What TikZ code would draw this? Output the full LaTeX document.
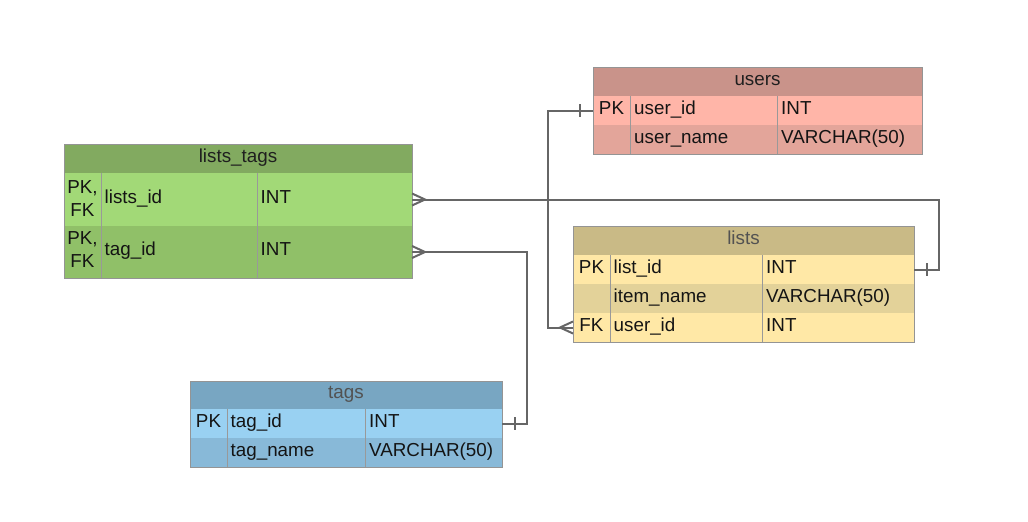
\documentclass[tikz,border=0pt]{standalone}
\usepackage{fontspec}
\setmainfont{Liberation Sans}
\definecolor{usersH}{HTML}{C9938A}
\definecolor{usersA}{HTML}{FFB5A8}
\definecolor{usersB}{HTML}{E3A59A}
\definecolor{listsH}{HTML}{C9BA86}
\definecolor{listsA}{HTML}{FFE8A6}
\definecolor{listsB}{HTML}{E3D299}
\definecolor{ltH}{HTML}{82AA60}
\definecolor{ltA}{HTML}{A2D977}
\definecolor{ltB}{HTML}{90C068}
\definecolor{tagsH}{HTML}{78A6C2}
\definecolor{tagsA}{HTML}{99D1F2}
\definecolor{tagsB}{HTML}{88B9D8}
\definecolor{connc}{HTML}{666666}
\begin{document}
\begin{tikzpicture}[x=1pt,y=-1pt,
  rowbox/.style={anchor=north west, inner sep=0pt, outer sep=0pt, minimum height=#1},
  frame/.style={draw=black!42, line width=0.9pt},
  div/.style={draw=black!40, line width=0.8pt},
  txt/.style={anchor=base west, inner sep=0pt, text=black!92, font=\fontsize{18.8}{22}\selectfont},
  ctxt/.style={txt, anchor=base},
  htxt/.style={ctxt},
  conn/.style={draw=connc, line width=2pt, line join=miter}]
\fill[white] (0,0) rectangle (1028,522);
\useasboundingbox (0,0) rectangle (1028,522);

% ---------- users ----------
\node[rowbox=29, minimum width=329, fill=usersH] (uh) at (593,67) {};
\node[rowbox=29, minimum width=329, fill=usersA] (u1) at (593,96) {};
\node[rowbox=29, minimum width=329, fill=usersB] (u2) at (593,125) {};
\draw[div] (630,96) -- (630,154);
\draw[div] (777,96) -- (777,154);
\draw[frame] (uh.north west) rectangle (u2.south east);
\node[htxt, text=black!88] (uht) at (757.5,85.5) {users};
\node[ctxt] (u1k) at (611.5,114) {PK};
\node[txt] (u1n) at (634,114) {user\_id};
\node[txt] (u1t) at (781,114) {INT};
\node[txt] (u2n) at (634,143) {user\_name};
\node[txt] (u2t) at (781,143) {VARCHAR(50)};

% ---------- lists ----------
\node[rowbox=29, minimum width=341, fill=listsH] (lh) at (573,226) {};
\node[rowbox=29, minimum width=341, fill=listsA] (l1) at (573,255) {};
\node[rowbox=29, minimum width=341, fill=listsB] (l2) at (573,284) {};
\node[rowbox=29, minimum width=341, fill=listsA] (l3) at (573,313) {};
\draw[div] (610,255) -- (610,342);
\draw[div] (762,255) -- (762,342);
\draw[frame] (lh.north west) rectangle (l3.south east);
\node[htxt, text=black!68] (lht) at (743.5,244.5) {lists};
\node[ctxt] (l1k) at (591.5,273) {PK};
\node[txt] (l1n) at (613.5,273) {list\_id};
\node[txt] (l1t) at (766,273) {INT};
\node[txt] (l2n) at (613.5,302) {item\_name};
\node[txt] (l2t) at (766,302) {VARCHAR(50)};
\node[ctxt] (l3k) at (591.5,331) {FK};
\node[txt] (l3n) at (613.5,331) {user\_id};
\node[txt] (l3t) at (766,331) {INT};

% ---------- lists_tags ----------
\node[rowbox=29, minimum width=348, fill=ltH] (lth) at (64,144) {};
\node[rowbox=53, minimum width=348, fill=ltA] (lt1) at (64,173) {};
\node[rowbox=52, minimum width=348, fill=ltB] (lt2) at (64,226) {};
\draw[div] (101,173) -- (101,278);
\draw[div] (257,173) -- (257,278);
\draw[frame] (lth.north west) rectangle (lt2.south east);
\node[htxt, text=black!88] (ltht) at (238,162.5) {lists\_tags};
\node[ctxt] (lt1k) at (82.5,193.3) {PK,};
\node[ctxt] (lt1f) at (82.5,216) {FK};
\node[txt] (lt1n) at (104.5,203) {lists\_id};
\node[txt] (lt1t) at (260.5,203) {INT};
\node[ctxt] (lt2k) at (82.5,244.5) {PK,};
\node[ctxt] (lt2f) at (82.5,267.3) {FK};
\node[txt] (lt2n) at (104.5,255.5) {tag\_id};
\node[txt] (lt2t) at (260.5,255.5) {INT};

% ---------- tags ----------
\node[rowbox=28, minimum width=312, fill=tagsH] (th) at (190,381) {};
\node[rowbox=29, minimum width=312, fill=tagsA] (t1) at (190,409) {};
\node[rowbox=29, minimum width=312, fill=tagsB] (t2) at (190,438) {};
\draw[div] (227,409) -- (227,467);
\draw[div] (365,409) -- (365,467);
\draw[frame] (th.north west) rectangle (t2.south east);
\node[htxt, text=black!68] (tht) at (346,398.5) {tags};
\node[ctxt] (t1k) at (208.5,427) {PK};
\node[txt] (t1n) at (230.5,427) {tag\_id};
\node[txt] (t1t) at (369,427) {INT};
\node[txt] (t2n) at (230.5,456) {tag\_name};
\node[txt] (t2t) at (369,456) {VARCHAR(50)};

% ---------- connectors ----------
\coordinate (jA) at (548,0);
\coordinate (jB) at (939,0);
\coordinate (jC) at (527,0);

% users.user_id  --< lists.user_id
\draw[conn] (u1.west) -- (u1.west -| jA) -- (l3.west -| jA) -- (l3.west);
\draw[conn] ([xshift=-13pt,yshift=6.5pt]u1.west) -- ([xshift=-13pt,yshift=-6.5pt]u1.west);
\draw[conn] ([yshift=6pt]l3.west) -- ([xshift=-13pt]l3.west) -- ([yshift=-6pt]l3.west);

% lists_tags.lists_id >-- lists.list_id
\draw[conn] (lt1.east) -- (lt1.east -| jB) -- (l1.east -| jB) -- (l1.east);
\draw[conn] ([yshift=6pt]lt1.east) -- ([xshift=13pt]lt1.east) -- ([yshift=-6pt]lt1.east);
\draw[conn] ([xshift=13pt,yshift=6.5pt]l1.east) -- ([xshift=13pt,yshift=-6.5pt]l1.east);

% lists_tags.tag_id >-- tags.tag_id
\draw[conn] (lt2.east) -- (lt2.east -| jC) -- (t1.east -| jC) -- (t1.east);
\draw[conn] ([yshift=6pt]lt2.east) -- ([xshift=13pt]lt2.east) -- ([yshift=-6pt]lt2.east);
\draw[conn] ([xshift=13pt,yshift=6.5pt]t1.east) -- ([xshift=13pt,yshift=-6.5pt]t1.east);
\end{tikzpicture}
\end{document}
